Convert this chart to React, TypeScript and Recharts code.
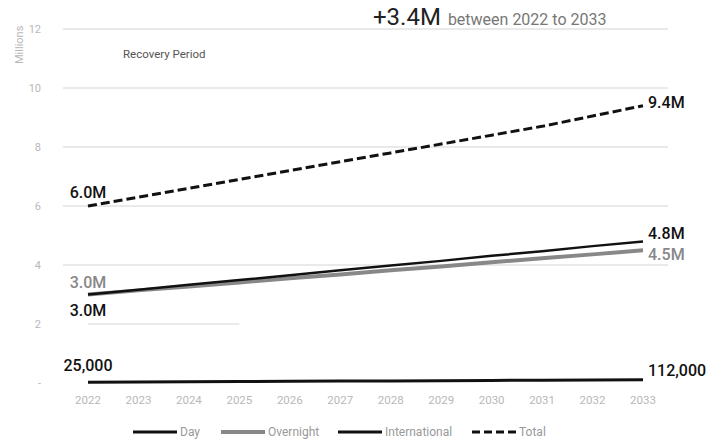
import React from "react";
import { LineChart, Line, XAxis, YAxis, CartesianGrid, ReferenceLine } from "recharts";

const years = ["2022","2023","2024","2025","2026","2027","2028","2029","2030","2031","2032","2033"];
const day = [3.0, 3.16, 3.33, 3.49, 3.65, 3.82, 3.98, 4.14, 4.31, 4.47, 4.64, 4.8];
const overnight = [3.0, 3.14, 3.27, 3.41, 3.55, 3.68, 3.82, 3.95, 4.09, 4.23, 4.36, 4.5];
const international = [0.025, 0.033, 0.041, 0.049, 0.056, 0.064, 0.072, 0.08, 0.088, 0.096, 0.104, 0.112];
const total = [6.0, 6.3, 6.6, 6.9, 7.2, 7.5, 7.8, 8.1, 8.4, 8.7, 9.05, 9.4];
const yTicks = [0, 2, 4, 6, 8, 10, 12];
const startLabels = { day: "3.0M", overnight: "3.0M", international: "25,000", total: "6.0M" };
const endLabels = { day: "4.8M", overnight: "4.5M", international: "112,000", total: "9.4M" };

const data = years.map((y, i) => ({
  year: y,
  day: day[i],
  overnight: overnight[i],
  international: international[i],
  total: total[i],
}));

const FONT = "Roboto, 'Noto Sans', sans-serif";

type Key = "day" | "overnight" | "international" | "total";
const startDy: Record<Key, number> = { day: 21, overnight: -7, international: -11, total: -8 };
const endDy: Record<Key, number> = { day: -2, overnight: 10, international: -4, total: 2 };
const colors: Record<Key, string> = { day: "#111", overnight: "#888", international: "#111", total: "#111" };

const makeLabel = (key: Key) => (props: any) => {
  const { x, y, index } = props;
  if (index === 0) {
    return (
      <text key={key + index} x={x} y={y + startDy[key]} textAnchor="middle" fontSize={16} fontFamily={FONT} fontWeight={500} fill={colors[key]}>
        {startLabels[key]}
      </text>
    );
  }
  if (index === years.length - 1) {
    return (
      <text key={key + index} x={x + 5} y={y + endDy[key]} textAnchor="start" fontSize={16} fontFamily={FONT} fontWeight={500} fill={colors[key]}>
        {endLabels[key]}
      </text>
    );
  }
  return null;
};

const legendItems = [
  { name: "Day", color: "#111", dash: undefined as string | undefined, x: 133 },
  { name: "Overnight", color: "#888", dash: undefined, x: 221 },
  { name: "International", color: "#111", dash: undefined, x: 338 },
  { name: "Total", color: "#111", dash: "8 4", x: 472 },
];

export default function App() {
  return (
    <div style={{ position: "absolute", left: 0, top: 0, width: 706, height: 441, background: "#fff", fontFamily: FONT }}>
      <LineChart width={706} height={441} data={data} margin={{ top: 29, right: 38, bottom: 28, left: 23 }}>
        <CartesianGrid vertical={false} horizontalValues={[4, 6, 8, 10, 12]} stroke="#d4d4d4" />
        <ReferenceLine segment={[{ x: "2022", y: 2 }, { x: "2025", y: 2 }]} stroke="#d4d4d4" />
        <XAxis
          dataKey="year"
          axisLine={false}
          tickLine={false}
          padding={{ left: 25, right: 25 }}
          height={30}
          tick={{ fill: "#b8b8b8", fontSize: 11.5, fontFamily: FONT }}
          tickMargin={7}
        />
        <YAxis
          domain={[0, 12]}
          ticks={yTicks}
          width={40}
          axisLine={false}
          tickLine={false}
          tickFormatter={(v: number) => (v === 0 ? "-" : String(v))}
          tick={{ fill: "#b8b8b8", fontSize: 11, fontFamily: FONT }}
          tickMargin={16}
          label={{ value: "Millions", angle: -90, position: "insideTopLeft", dx: -13, dy: 30, fill: "#b8b8b8", fontSize: 11, fontFamily: FONT }}
        />
        <Line dataKey="international" stroke="#111" strokeWidth={3} dot={false} isAnimationActive={false} label={makeLabel("international")} />
        <Line dataKey="overnight" stroke="#888" strokeWidth={4} dot={false} isAnimationActive={false} label={makeLabel("overnight")} />
        <Line dataKey="day" stroke="#111" strokeWidth={2.5} dot={false} isAnimationActive={false} label={makeLabel("day")} />
        <Line dataKey="total" stroke="#111" strokeWidth={3} strokeDasharray="9 4" dot={false} isAnimationActive={false} label={makeLabel("total")} />
      </LineChart>
      <div style={{ position: "absolute", left: 373, top: 3, whiteSpace: "nowrap", lineHeight: "28px" }}>
        <span style={{ fontSize: 24, color: "#222" }}>+3.4M</span>
        <span style={{ fontSize: 16, color: "#777", marginLeft: 7 }}>between 2022 to 2033</span>
      </div>
      <div style={{ position: "absolute", left: 123, top: 47, fontSize: 11.5, color: "#555", whiteSpace: "nowrap" }}>Recovery Period</div>
      <svg width={706} height={441} style={{ position: "absolute", left: 0, top: 0, pointerEvents: "none" }}>
        {legendItems.map((it) => (
          <g key={it.name}>
            <line x1={it.x} x2={it.x + 44} y1={432} y2={432} stroke={it.color} strokeWidth={it.name === "Overnight" ? 4 : 3} strokeDasharray={it.dash} />
            <text x={it.x + 47} y={436} fontSize={12} fill="#999" fontFamily={FONT}>{it.name}</text>
          </g>
        ))}
      </svg>
    </div>
  );
}
